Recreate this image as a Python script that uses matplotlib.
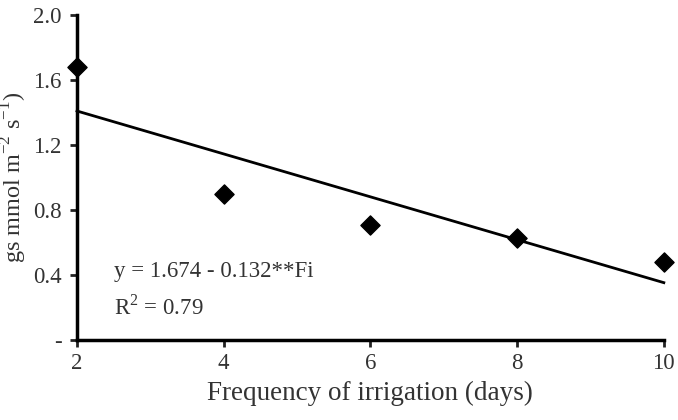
import matplotlib
matplotlib.use("Agg")
import matplotlib.pyplot as plt
import numpy as np

# irrigation frequency (days) and stomatal conductance
freq = [2, 4, 6, 8, 10]
gs = [1.68, 0.90, 0.71, 0.63, 0.48]

intercept = 1.674
slope = -0.132

yticks = [0, 0.4, 0.8, 1.2, 1.6, 2.0]
ytick_labels = ["-", "0.4", "0.8", "1.2", "1.6", "2.0"]
xticks = [2, 4, 6, 8, 10]

plt.rcParams["font.family"] = ["Liberation Serif", "DejaVu Serif"]
plt.rcParams["mathtext.fontset"] = "custom"
plt.rcParams["mathtext.rm"] = "Liberation Serif"

fig = plt.figure(figsize=(6.78, 4.2), dpi=100)
ax = fig.add_axes([0.1136, 0.19, 0.8655, 0.774])

fx = np.array([freq[0], freq[-1]])
ax.plot(fx, intercept + slope * fx, color="black", lw=2, clip_on=False)
ax.scatter(freq, gs, marker="D", s=95, color="black", zorder=3, clip_on=False)

ax.set_xlim(2, 10)
ax.set_ylim(0, 2.0)
ax.set_xticks(xticks)
ax.set_yticks(yticks)
ax.set_yticklabels(ytick_labels)

for side in ["top", "right"]:
    ax.spines[side].set_visible(False)
for side in ["left", "bottom"]:
    ax.spines[side].set_linewidth(2.5)
ax.tick_params(direction="out", length=5, width=2, labelsize=16.5,
               color="#222222", labelcolor="#333333")
ax.tick_params(axis="x", pad=4)
ax.tick_params(axis="y", pad=6)

ax.set_xlabel("Frequency of irrigation (days)", fontsize=19.5, color="#333333", labelpad=5)
ax.set_ylabel("gs mmol m$^{\\mathregular{-2}}$ s$^{\\mathregular{-1}}$)", fontsize=17.5,
              color="#333333")
ax.yaxis.set_label_coords(-0.082, 0.5)

ax.text(2.5, 0.39, "y = 1.674 - 0.132**Fi", fontsize=16.5, color="#333333")
ax.text(2.5, 0.16, "R$^{\\mathregular{2}}$ = 0.79", fontsize=16.5, color="#333333")

fig.savefig("out.png", dpi=100)
